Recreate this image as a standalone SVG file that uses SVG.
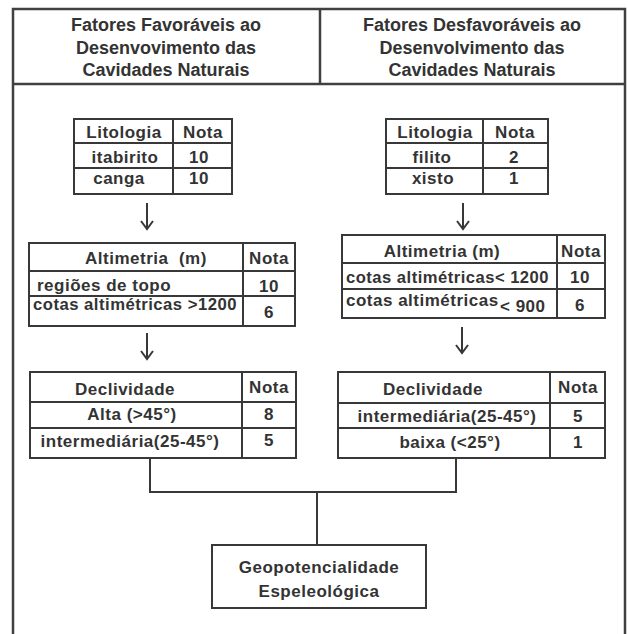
<svg xmlns="http://www.w3.org/2000/svg" width="628" height="634" viewBox="0 0 628 634">
<defs>
<style>
.ln{stroke:#383838;stroke-width:2;fill:none}
.fr{stroke:#404040;stroke-width:2.5;fill:none}
.bx{stroke:#383838;stroke-width:2;fill:#fff}
.t{font-family:"Liberation Sans",Arial,sans-serif;font-weight:bold;font-size:17px;fill:#333;letter-spacing:0.5px}
.h{font-family:"Liberation Sans",Arial,sans-serif;font-weight:bold;font-size:18px;fill:#333;text-anchor:middle}
.c{text-anchor:middle}
</style>
</defs>
<rect width="628" height="634" fill="#fff"/>

<g id="frame">
<path class="fr" d="M13,634 V9 H625 V634 M13,84 H625 M320,9 V84"/>
</g>

<g id="header-left">
<text class="h" x="166" y="31">Fatores Favoráveis ao</text>
<text class="h" x="166" y="54">Desenvovimento das</text>
<text class="h" x="166" y="76">Cavidades Naturais</text>
</g>
<g id="header-right">
<text class="h" x="472" y="31">Fatores Desfavoráveis ao</text>
<text class="h" x="472" y="54">Desenvolvimento das</text>
<text class="h" x="472" y="76">Cavidades Naturais</text>
</g>

<g id="litologia-fav">
<rect class="bx" x="74" y="119" width="158" height="75"/>
<path class="ln" d="M173,119 V194 M74,143 H232 M74,168 H232"/>
<text class="t c" x="124" y="138">Litologia</text>
<text class="t c" x="203" y="138">Nota</text>
<text class="t c" x="125" y="163">itabirito</text>
<text class="t c" x="199" y="163">10</text>
<text class="t c" x="119" y="184">canga</text>
<text class="t c" x="199" y="184">10</text>
</g>

<g id="litologia-desf">
<rect class="bx" x="386" y="119" width="162" height="75"/>
<path class="ln" d="M483,119 V194 M386,143 H548 M386,168 H548"/>
<text class="t c" x="435" y="138">Litologia</text>
<text class="t c" x="515" y="138">Nota</text>
<text class="t c" x="432" y="163">filito</text>
<text class="t c" x="514" y="163">2</text>
<text class="t c" x="433" y="184">xisto</text>
<text class="t c" x="514" y="184">1</text>
</g>

<g id="altimetria-fav">
<rect class="bx" x="29" y="243" width="266" height="83"/>
<path class="ln" d="M243,243 V326 M29,271 H295 M29,296 H295"/>
<text class="t c" x="146" y="264">Altimetria&#160; (m)</text>
<text class="t c" x="269" y="264">Nota</text>
<text class="t" x="37" y="291">regiões de topo</text>
<text class="t c" x="269" y="292">10</text>
<text class="t" x="33" y="310" textLength="204" lengthAdjust="spacingAndGlyphs">cotas altimétricas &gt;1200</text>
<text class="t c" x="269" y="318">6</text>
</g>

<g id="altimetria-desf">
<rect class="bx" x="342" y="235" width="263" height="83"/>
<path class="ln" d="M557,235 V318 M342,263 H605 M342,289 H605"/>
<text class="t c" x="442" y="257">Altimetria (m)</text>
<text class="t c" x="581" y="257">Nota</text>
<text class="t" x="346" y="283" textLength="203" lengthAdjust="spacingAndGlyphs">cotas altimétricas&lt; 1200</text>
<text class="t c" x="580" y="283">10</text>
<text class="t" x="346" y="306">cotas altimétricas<tspan x="500" y="312">&lt; 900</tspan></text>
<text class="t c" x="580" y="311">6</text>
</g>

<g id="declividade-fav">
<rect class="bx" x="30" y="372" width="266" height="86"/>
<path class="ln" d="M242,372 V458 M30,402 H296 M30,428 H296"/>
<text class="t c" x="125" y="395">Declividade</text>
<text class="t c" x="269" y="393">Nota</text>
<text class="t c" x="132" y="420">Alta (&gt;45°)</text>
<text class="t c" x="269" y="420">8</text>
<text class="t c" x="130" y="447">intermediária(25-45°)</text>
<text class="t c" x="269" y="446">5</text>
</g>

<g id="declividade-desf">
<rect class="bx" x="338" y="372" width="267" height="86"/>
<path class="ln" d="M550,372 V458 M338,403 H605 M338,428 H605"/>
<text class="t c" x="433" y="395">Declividade</text>
<text class="t c" x="578" y="393">Nota</text>
<text class="t c" x="447" y="422">intermediária(25-45°)</text>
<text class="t c" x="578" y="422">5</text>
<text class="t c" x="450" y="448">baixa (&lt;25°)</text>
<text class="t c" x="578" y="448">1</text>
</g>

<g id="geopotencialidade">
<rect class="bx" x="212" y="545" width="214" height="63"/>
<text class="t c" x="319" y="573">Geopotencialidade</text>
<text class="t c" x="319" y="597">Espeleológica</text>
</g>

<g id="connectors">
<path class="ln" d="M147,203 V229 M141,221 L147,229 L153,221"/>
<path class="ln" d="M463,203 V229 M457,221 L463,229 L469,221"/>
<path class="ln" d="M147,333 V359 M141,351 L147,359 L153,351"/>
<path class="ln" d="M462,327 V353 M456,345 L462,353 L468,345"/>
<path class="ln" d="M150,458 V492 H456 V458 M317,492 V545"/>
</g>
</svg>
